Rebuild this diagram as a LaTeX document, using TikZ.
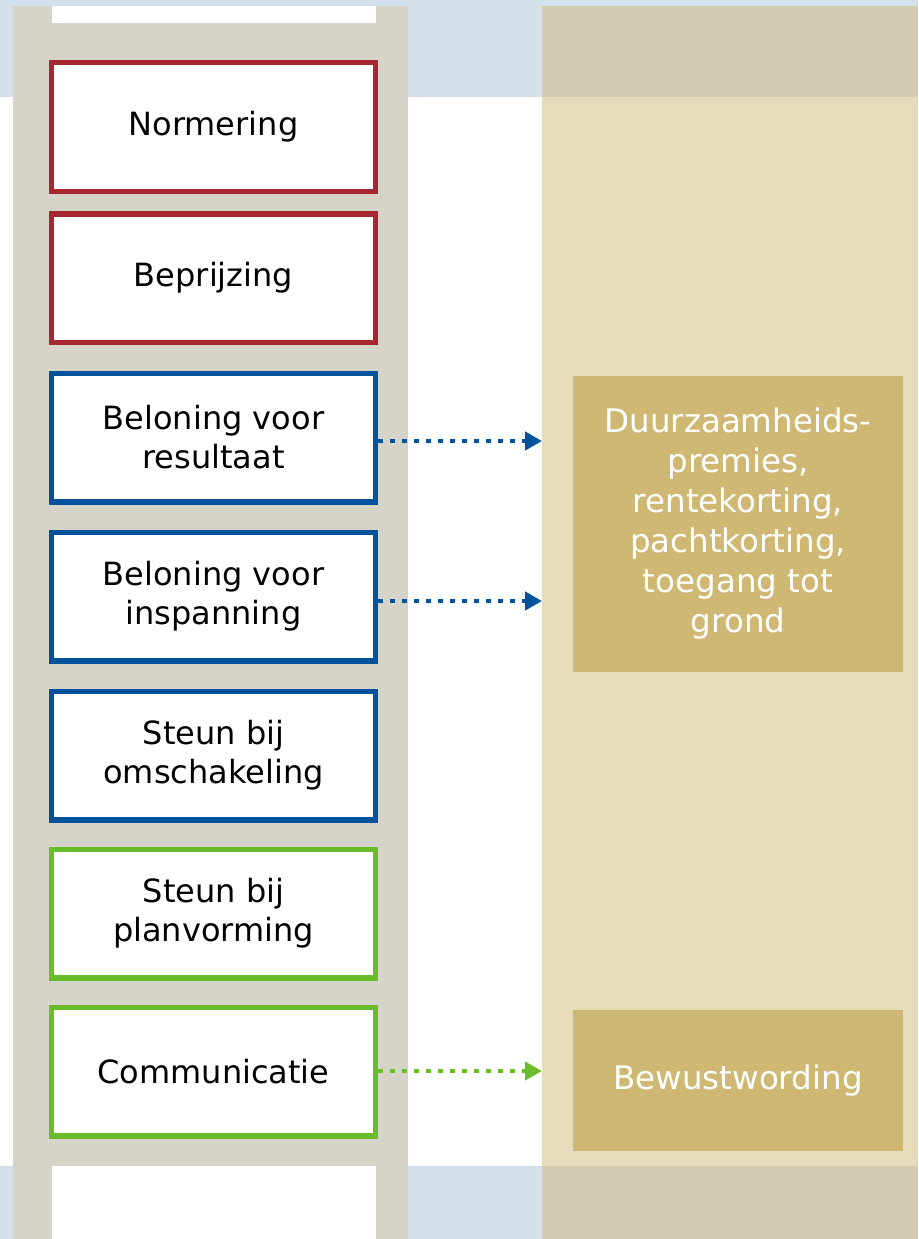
\documentclass[tikz,border=0pt]{standalone}
\usepackage{fontspec}
\setmainfont{DejaVu Sans}
\usetikzlibrary{positioning, arrows.meta}
\usepackage{xcolor}
\definecolor{bandblue}{HTML}{D3DFE9}
\definecolor{laddergray}{HTML}{D6D3C9}
\definecolor{colbeige}{HTML}{E6DCBB}
\definecolor{overlap}{HTML}{D2CCB2}
\definecolor{tan}{HTML}{CFB873}
\definecolor{normred}{HTML}{A8262F}
\definecolor{steunblue}{HTML}{00529B}
\definecolor{commgreen}{HTML}{6ABD2A}

\begin{document}
\begin{tikzpicture}[
    x=1pt, y=-1pt,
    every node/.style={font=\fontsize{32}{39}\selectfont},
    rung/.style={draw=#1,fill=white,line width=5.5pt,minimum width=324pt,
        minimum height=128.5pt,inner sep=0pt,align=center,text=black},
    effect/.style={fill=tan,text=white,inner sep=0pt,align=center,
        minimum width=330pt,font=\fontsize{32.5}{40}\selectfont},
    link/.style={draw=#1,line width=4.5pt,dash pattern=on 4.5pt off 7.5pt,
        -{Triangle[length=17pt,width=18pt,fill=#1]}}
]
\useasboundingbox (0,0) rectangle (918,1239);
% Background bands
\fill[bandblue] (0,0) rectangle (918,97);
\fill[bandblue] (0,1166) rectangle (918,1239);
% Ladder
\fill[laddergray] (13,6) rectangle (408,1239);
\fill[white] (52,6) rectangle (376,23);
\fill[white] (52,1166) rectangle (376,1239);
% Right column
\fill[colbeige] (542,6) rectangle (918,1239);
\fill[overlap] (542,6) rectangle (918,97);
\fill[overlap] (542,1166) rectangle (918,1239);
% Rungs of the ladder
\node[rung=normred] (norm) at (213.5,127) {Normering};
\node[rung=normred] (beprijs) at (213.5,278) {Beprijzing};
\node[rung=steunblue] (resultaat) at (213.5,437.5) {Beloning voor\\resultaat};
\node[rung=steunblue] (inspanning) at (213.5,596.5) {Beloning voor\\inspanning};
\node[rung=steunblue] (omschakeling) at (213.5,755.5) {Steun bij\\omschakeling};
\node[rung=commgreen] (planvorming) at (213.5,913.5) {Steun bij\\planvorming};
\node[rung=commgreen] (communicatie) at (213.5,1071.5) {Communicatie};
% Instruments
\node[effect,minimum height=296pt] (premies) at (738,524)
    {Duurzaamheids-\\premies,\\rentekorting,\\pachtkorting,\\toegang tot\\grond};
\node[effect,minimum height=141pt] (bewust) at (738,1080.5) {Bewustwording};
% Arrow ends at the column edge
\coordinate (premiesA) at (542,441);
\coordinate (premiesB) at (542,601);
\coordinate (bewustA) at (542,1071);
\draw[link=steunblue] (resultaat.east |- premiesA) -- (premiesA);
\draw[link=steunblue] (inspanning.east |- premiesB) -- (premiesB);
\draw[link=commgreen] (communicatie.east |- bewustA) -- (bewustA);
\end{tikzpicture}
\end{document}
